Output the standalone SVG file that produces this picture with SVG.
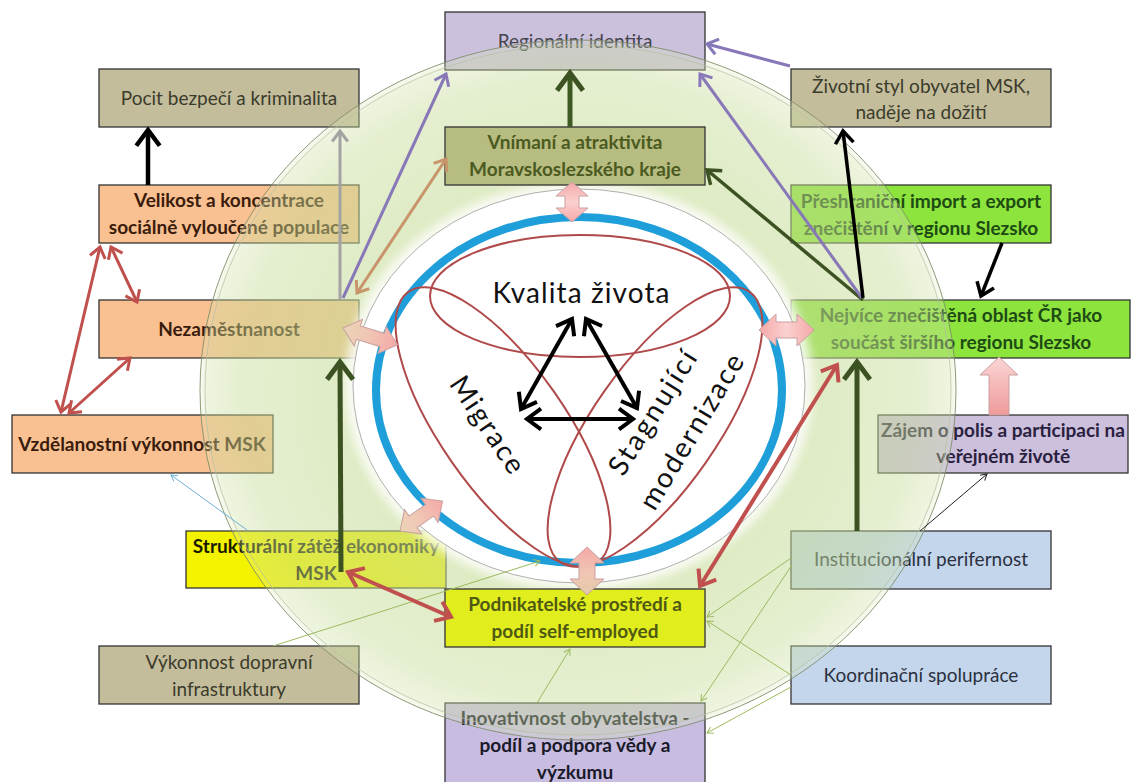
<svg xmlns="http://www.w3.org/2000/svg" width="1131" height="782" viewBox="0 0 1131 782">
<defs>
<style>
.box{stroke:#333;stroke-width:1.3}
.t{font-family:Lato,'Liberation Sans',sans-serif;font-size:19px;text-anchor:middle}
.c{font-family:Lato,'Liberation Sans',sans-serif;font-size:28px;text-anchor:middle;fill:#111}
.b{font-weight:bold}
.ln{fill:none;stroke-linecap:butt}
.thin{fill:none;stroke-width:1}
.blk{stroke:#c9a0a0;stroke-width:1}
</style>
<marker id="mBlack" viewBox="-5 -4 6 8" markerWidth="6" markerHeight="8" refX="0" refY="0" orient="auto-start-reverse" overflow="visible"><path d="M-3.5,-2.6 L0,0 L-3.5,2.6" fill="none" stroke="#000" stroke-width="1"/></marker>
<marker id="mGray" viewBox="-5 -4 6 8" markerWidth="6" markerHeight="8" refX="0" refY="0" orient="auto-start-reverse" overflow="visible"><path d="M-3.5,-2.6 L0,0 L-3.5,2.6" fill="none" stroke="#a3a3a3" stroke-width="1"/></marker>
<marker id="mPurple" viewBox="-5 -4 6 8" markerWidth="6" markerHeight="8" refX="0" refY="0" orient="auto-start-reverse" overflow="visible"><path d="M-3.5,-2.6 L0,0 L-3.5,2.6" fill="none" stroke="#8878b8" stroke-width="1"/></marker>
<marker id="mTan" viewBox="-5 -4 6 8" markerWidth="6" markerHeight="8" refX="0" refY="0" orient="auto-start-reverse" overflow="visible"><path d="M-3.5,-2.6 L0,0 L-3.5,2.6" fill="none" stroke="#c8946a" stroke-width="1"/></marker>
<marker id="mDg" viewBox="-5 -4 6 8" markerWidth="6" markerHeight="8" refX="0" refY="0" orient="auto-start-reverse" overflow="visible"><path d="M-3.5,-2.6 L0,0 L-3.5,2.6" fill="none" stroke="#3c5222" stroke-width="1"/></marker>
<marker id="mRed" viewBox="-5 -4 6 8" markerWidth="6" markerHeight="8" refX="0" refY="0" orient="auto-start-reverse" overflow="visible"><path d="M-3.5,-2.6 L0,0 L-3.5,2.6" fill="none" stroke="#c0504d" stroke-width="1"/></marker>
<marker id="tGreen" viewBox="-8 -5 9 10" markerWidth="9" markerHeight="10" refX="0" refY="0" orient="auto" overflow="visible"><path d="M-6,-3.5 L0,0 L-6,3.5" fill="none" stroke="#9cba5e" stroke-width="1"/></marker>
<marker id="tBlue" viewBox="-8 -5 9 10" markerWidth="9" markerHeight="10" refX="0" refY="0" orient="auto" overflow="visible"><path d="M-6,-3.5 L0,0 L-6,3.5" fill="none" stroke="#70b0d8" stroke-width="1"/></marker>
<marker id="tBlack" viewBox="-8 -5 9 10" markerWidth="9" markerHeight="10" refX="0" refY="0" orient="auto" overflow="visible"><path d="M-6,-3.5 L0,0 L-6,3.5" fill="none" stroke="#222" stroke-width="1"/></marker>
<radialGradient id="disk" cx="0.5" cy="0.5" r="0.5">
<stop offset="0" stop-color="#c6dc98" stop-opacity="0.58"/>
<stop offset="0.6" stop-color="#c6dc98" stop-opacity="0.58"/>
<stop offset="0.9" stop-color="#c6dc98" stop-opacity="0.45"/>
<stop offset="0.985" stop-color="#cfe2a8" stop-opacity="0.36"/>
<stop offset="1" stop-color="#e0ecc8" stop-opacity="0.2"/>
</radialGradient>
<linearGradient id="pink" x1="0" y1="0" x2="1" y2="0">
<stop offset="0" stop-color="#f5a8a8"/><stop offset="0.5" stop-color="#fbd0d0"/><stop offset="1" stop-color="#f5a8a8"/>
</linearGradient>
<linearGradient id="tanPink" x1="0" y1="0" x2="1" y2="0">
<stop offset="0" stop-color="#ead4b6"/><stop offset="0.45" stop-color="#f0c6b4"/><stop offset="1" stop-color="#f5a8a8"/>
</linearGradient>
<linearGradient id="pinkTan" x1="0" y1="0" x2="1" y2="0">
<stop offset="0" stop-color="#f5a8a8"/><stop offset="0.55" stop-color="#f0c6b4"/><stop offset="1" stop-color="#e2c9a8"/>
</linearGradient>
<linearGradient id="pinkUp" x1="0" y1="0" x2="1" y2="0">
<stop offset="0" stop-color="#fbd6d6"/><stop offset="1" stop-color="#ef9a9a"/>
</linearGradient>
<filter id="blur" x="-20%" y="-20%" width="140%" height="140%"><feGaussianBlur stdDeviation="5"/></filter>
</defs>
<rect width="1131" height="782" fill="#fff"/>

<!-- outer boxes (under the translucent disk) -->
<g id="n-regionalni"><rect class="box" x="445" y="12" width="260" height="58" fill="#ccc1dc"/><text class="t" x="575" y="48" fill="#44444f">Regionální identita</text></g>
<g id="n-pocit"><rect class="box" x="99" y="69" width="260" height="58" fill="#c4bd9b"/><text class="t" x="229" y="105" fill="#3b3b2b">Pocit bezpečí a kriminalita</text></g>
<g id="n-velikost"><rect class="box" x="99" y="185" width="260" height="58" fill="#f9c191"/><text class="t b" x="229" y="207" fill="#3a1c0c">Velikost a koncentrace</text><text class="t b" x="229" y="234" fill="#3a1c0c">sociálně vyloučené populace</text></g>
<g id="n-nezamestnanost"><rect class="box" x="99" y="300" width="260" height="58" fill="#f9c191"/><text class="t b" x="229" y="336" fill="#3a1c0c">Nezaměstnanost</text></g>
<g id="n-vzdelanost"><rect class="box" x="12" y="415" width="261" height="58" fill="#f9c191"/><text class="t b" x="142" y="451" fill="#3a1c0c">Vzdělanostní výkonnost MSK</text></g>
<g id="n-zivotni"><rect class="box" x="791" y="69" width="260" height="58" fill="#c4bd9b"/><text class="t" x="921" y="93" fill="#3b3b2b">Životní styl obyvatel MSK,</text><text class="t" x="921" y="119" fill="#3b3b2b">naděje na dožití</text></g>
<g id="n-preshranicni"><rect class="box" x="791" y="185" width="260" height="58" fill="#8de43c"/><text class="t b" x="921" y="208" fill="#1e4a14">Přeshraniční import a export</text><text class="t b" x="921" y="235" fill="#1e4a14">znečištění v regionu Slezsko</text></g>
<g id="n-nejvice"><rect class="box" x="791" y="300" width="339" height="58" fill="#8de43c"/><text class="t b" x="961" y="322" fill="#1e4a14">Nejvíce znečištěná oblast ČR jako</text><text class="t b" x="961" y="349" fill="#1e4a14">součást širšího regionu Slezsko</text></g>
<g id="n-zajem"><rect class="box" x="878" y="415" width="250" height="58" fill="#ccc0dc"/><text class="t b" x="1003" y="437" fill="#2a2040">Zájem o polis a participaci na</text><text class="t b" x="1003" y="463" fill="#2a2040">veřejném životě</text></g>
<g id="n-strukturalni"><rect class="box" x="186" y="531" width="260" height="57" fill="#f3f300"/><text class="t b" x="316" y="553" fill="#1a1a00">Strukturální zátěž ekonomiky</text><text class="t b" x="316" y="580" fill="#1a1a00">MSK</text></g>
<g id="n-institucionalni"><rect class="box" x="791" y="531" width="260" height="58" fill="#c4d6ec"/><text class="t" x="921" y="566" fill="#2a3040">Institucionální perifernost</text></g>
<g id="n-vykonnost"><rect class="box" x="99" y="646" width="260" height="58" fill="#c4bd9b"/><text class="t" x="229" y="669" fill="#3b3b2b">Výkonnost dopravní</text><text class="t" x="229" y="696" fill="#3b3b2b">infrastruktury</text></g>
<g id="n-koordinacni"><rect class="box" x="791" y="646" width="260" height="58" fill="#c4d6ec"/><text class="t" x="921" y="682" fill="#2a3040">Koordinační spolupráce</text></g>
<g id="n-inovativnost"><rect class="box" x="445" y="703" width="260" height="86" fill="#c8bde0"/><text class="t b" x="575" y="725" fill="#1a1a2a">Inovativnost obyvatelstva -</text><text class="t b" x="575" y="752" fill="#1a1a2a">podíl a podpora vědy a</text><text class="t b" x="575" y="779" fill="#1a1a2a">výzkumu</text></g>

<!-- translucent outer disk -->
<g id="ring-outer">
<ellipse cx="578" cy="390" rx="378" ry="350" fill="url(#disk)" stroke="#7f8f68" stroke-width="0.9"/>
<ellipse cx="578" cy="390" rx="373" ry="345" fill="none" stroke="#b4bea2" stroke-width="0.7"/>
</g>

<!-- inner core -->
<g id="n-core">
<ellipse cx="579" cy="386" rx="234" ry="204" fill="#fff" opacity="0.8" filter="url(#blur)"/>
<ellipse cx="579" cy="386" rx="226" ry="197" fill="#fff" stroke="#9a9a9a" stroke-width="0.8"/>
<ellipse cx="579" cy="390" rx="203" ry="173" fill="none" stroke="#1e9fda" stroke-width="8"/>
<g fill="none" stroke="#b04a4a" stroke-width="2">
<ellipse cx="580" cy="296" rx="150" ry="61"/>
<ellipse cx="0" cy="0" rx="165" ry="62" transform="translate(503,427) rotate(55)"/>
<ellipse cx="0" cy="0" rx="165" ry="62" transform="translate(655,427) rotate(-55)"/>
</g>
<text class="c" x="581" y="303" textLength="177">Kvalita života</text>
<text class="c" transform="translate(487,425) rotate(56)" y="9" textLength="111">Migrace</text>
<text class="c" transform="translate(653,413) rotate(-58)" y="9" textLength="141">Stagnující</text>
<text class="c" transform="translate(692,432) rotate(-59)" y="9" textLength="176">modernizace</text>
<g class="ln" stroke="#000" stroke-width="4">
<line x1="521" y1="409" x2="572" y2="319" marker-start="url(#mBlack)" marker-end="url(#mBlack)"/>
<line x1="586" y1="319" x2="637" y2="408" marker-start="url(#mBlack)" marker-end="url(#mBlack)"/>
<line x1="527" y1="419" x2="633" y2="419" marker-start="url(#mBlack)" marker-end="url(#mBlack)"/>
</g>
</g>

<!-- inner boxes -->
<g id="n-vnimani"><rect class="box" x="445" y="127" width="260" height="58" fill="#b7bc80"/><text class="t b" x="575" y="149" fill="#4b5a1f">Vnímaní a atraktivita</text><text class="t b" x="575" y="176" fill="#4b5a1f">Moravskoslezského kraje</text></g>
<g id="n-podnikatelske"><rect class="box" x="445" y="589" width="260" height="58" fill="#e2ed1e"/><text class="t b" x="575" y="611" fill="#4e5a12">Podnikatelské prostředí a</text><text class="t b" x="575" y="638" fill="#4e5a12">podíl self-employed</text></g>

<!-- connectors -->
<g id="connectors">
<g class="thin" stroke="#9cba5e">
<line x1="273" y1="646" x2="540" y2="561" marker-end="url(#tGreen)"/>
<line x1="791" y1="558" x2="707" y2="617" marker-end="url(#tGreen)"/>
<line x1="792" y1="565" x2="701" y2="701" marker-end="url(#tGreen)"/>
<line x1="791" y1="675" x2="707" y2="621" marker-end="url(#tGreen)"/>
<line x1="791" y1="687" x2="707" y2="733" marker-end="url(#tGreen)"/>
<line x1="537" y1="703" x2="570" y2="649" marker-end="url(#tGreen)"/>
</g>
<line class="thin" x1="247" y1="530" x2="171" y2="475" stroke="#70b0d8" marker-end="url(#tBlue)"/>
<line class="thin" x1="920" y1="531" x2="987" y2="474" stroke="#222" marker-end="url(#tBlack)"/>

<line class="ln" x1="148" y1="185" x2="148" y2="130" stroke="#000" stroke-width="4.5" marker-end="url(#mBlack)"/>
<line class="ln" x1="340" y1="300" x2="340" y2="131" stroke="#a3a3a3" stroke-width="3" marker-end="url(#mGray)"/>
<line class="ln" x1="343" y1="298" x2="446" y2="74" stroke="#8878b8" stroke-width="3" marker-end="url(#mPurple)"/>
<line class="ln" x1="357" y1="293" x2="446" y2="159" stroke="#c8946a" stroke-width="3" marker-start="url(#mTan)" marker-end="url(#mTan)"/>
<line class="ln" x1="570" y1="127" x2="570" y2="73" stroke="#3c5a22" stroke-width="5" marker-end="url(#mDg)"/>
<line class="ln" x1="863" y1="300" x2="707" y2="170" stroke="#3c5222" stroke-width="3.5" marker-end="url(#mDg)"/>
<line class="ln" x1="862" y1="298" x2="700" y2="74" stroke="#8878b8" stroke-width="3" marker-end="url(#mPurple)"/>
<line class="ln" x1="790" y1="66" x2="707" y2="44" stroke="#8878b8" stroke-width="3" marker-end="url(#mPurple)"/>
<line class="ln" x1="863" y1="298" x2="843" y2="131" stroke="#000" stroke-width="3.5" marker-end="url(#mBlack)"/>
<line class="ln" x1="1002" y1="243" x2="981" y2="296" stroke="#000" stroke-width="3.5" marker-end="url(#mBlack)"/>
<line class="ln" x1="857" y1="531" x2="857" y2="362" stroke="#3c5222" stroke-width="5" marker-end="url(#mDg)"/>
<line class="ln" x1="700" y1="586" x2="837" y2="365" stroke="#c0504d" stroke-width="4" marker-start="url(#mRed)" marker-end="url(#mRed)"/>
<line class="ln" x1="341" y1="572" x2="340" y2="362" stroke="#3c5222" stroke-width="5" marker-end="url(#mDg)"/>
<line class="ln" x1="348" y1="572" x2="451" y2="617" stroke="#c0504d" stroke-width="4" marker-start="url(#mRed)" marker-end="url(#mRed)"/>
<g class="ln" stroke="#c0504d" stroke-width="3">
<line x1="111" y1="247" x2="137" y2="302" marker-start="url(#mRed)" marker-end="url(#mRed)"/>
<line x1="100" y1="247" x2="61" y2="412" marker-start="url(#mRed)" marker-end="url(#mRed)"/>
<line x1="130" y1="358" x2="69" y2="413" marker-start="url(#mRed)" marker-end="url(#mRed)"/>
</g>

<!-- block arrows -->
<polygon class="blk" fill="url(#pinkUp)" points="0,0 18,-19 18,-10 58,-10 58,10 18,10 18,19" transform="translate(999,357) rotate(90)"/>
<polygon class="blk" fill="url(#pink)" points="0,0 14,-16 14,-7 26,-7 26,-16 40,0 26,16 26,7 14,7 14,16" transform="translate(572,182) rotate(90)"/>
<polygon class="blk" fill="url(#pink)" points="0,0 17,-16 17,-8 38,-8 38,-16 55,0 38,16 38,8 17,8 17,16" transform="translate(759,330)"/>
<polygon class="blk" fill="url(#tanPink)" points="0,0 16,-14 16,-7 41,-7 41,-14 57,0 41,14 41,7 16,7 16,14" transform="translate(343,328) rotate(17)"/>
<polygon class="blk" fill="url(#tanPink)" points="0,0 16,-15 16,-7 36,-7 36,-15 52,0 36,15 36,7 16,7 16,15" transform="translate(400,531) rotate(-35)"/>
<polygon class="blk" fill="url(#pinkTan)" points="0,0 16,-17 16,-8 32,-8 32,-17 48,0 32,17 32,8 16,8 16,17" transform="translate(587,547) rotate(90)"/>
</g>
</svg>
